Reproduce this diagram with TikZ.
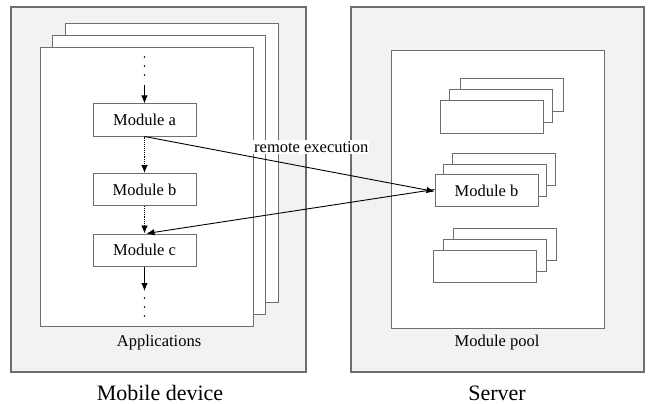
\documentclass[tikz,border=0pt]{standalone}
\usepackage{fontspec}
\setmainfont{Liberation Serif}
\usetikzlibrary{arrows.meta}
\definecolor{panelgrey}{HTML}{F2F2F2}
\definecolor{edgegrey}{HTML}{6E6E6E}
\tikzset{
  panel/.style={draw=edgegrey, line width=1.1pt, fill=panelgrey},
  sheet/.style={draw=edgegrey, line width=1pt, fill=white, minimum width=213pt, minimum height=278pt, inner sep=0pt},
  modbox/.style={draw=edgegrey, line width=1pt, fill=white, minimum width=103pt, minimum height=32pt, inner sep=0pt, font=\fontsize{16.5}{18}\selectfont},
  lbl/.style={font=\fontsize{16.5}{18}\selectfont, inner sep=1pt},
  title/.style={font=\fontsize{22}{24}\selectfont},
  flow/.style={-{Latex[length=8pt,width=6.5pt]}, line width=0.9pt, black},
  dflow/.style={flow, densely dotted},
  dotmark/.style={circle, fill=black, inner sep=0pt, minimum size=1.8pt}
}
\begin{document}
\begin{tikzpicture}[x=1pt,y=-1pt]
\useasboundingbox (0,0) rectangle (651,404);
% Mobile device panel
\draw[panel] (11,7) rectangle (306,372);
\node[sheet] (pg3) at (171.5,163) {};
\node[sheet] (pg2) at (158.5,175) {};
\node[sheet] (pg1) at (146.5,187) {};
\node[lbl] (apps) at (159,343) {Applications};
\node[title] (mobile) at (160,393) {Mobile device};
% Modules on device
\node[modbox] (ma) at (144.5,120) {Module a};
\node[modbox] (mb) at (144.5,189.5) {Module b};
\node[modbox] (mc) at (144.5,250) {Module c};
\node[dotmark] (d1) at (144.5,57) {};
\node[dotmark] (d2) at (144.5,66) {};
\node[dotmark] (d3) at (144.5,75) {};
\coordinate (topin) at (144.5,85);
\coordinate (botout) at (144.5,291);
\node[dotmark] (d4) at (144.5,298) {};
\node[dotmark] (d5) at (144.5,307) {};
\node[dotmark] (d6) at (144.5,316) {};
\draw[flow] (topin) -- (ma.north);
\draw[dflow] (ma.south) -- (mb.north);
\draw[dflow] (mb.south) -- (mc.north);
\draw[flow] (mc.south) -- (botout);
% Server panel
\draw[panel] (351,7) rectangle (644,372);
\node[draw=edgegrey, line width=1pt, fill=white, minimum width=213pt, minimum height=277pt, inner sep=0pt] (pool) at (497.5,189.5) {};
\node[lbl] (pooltxt) at (497,343) {Module pool};
\node[title] (server) at (497,393) {Server};
% stack 1
\node[modbox] (s1c) at (511.5,95) {};
\node[modbox] (s1b) at (501,106) {};
\node[modbox] (s1a) at (491.5,117) {};
% stack 2
\node[modbox] (s2c) at (503.5,169.5) {};
\node[modbox] (s2b) at (495,180) {};
\node[modbox] (mbR) at (486.5,190.5) {Module b};
% stack 3
\node[modbox] (s3c) at (505,244.5) {};
\node[modbox] (s3b) at (495,255.5) {};
\node[modbox] (s3a) at (485,266.5) {};
% remote execution
\draw[flow] (ma.south) -- ([yshift=-1pt]mbR.west);
\draw[flow] ([yshift=1pt]mbR.west) -- ([xshift=2pt]mc.north);
\node[lbl, fill=white, anchor=west] (remote) at (253,147) {remote execution};
\end{tikzpicture}
\end{document}
